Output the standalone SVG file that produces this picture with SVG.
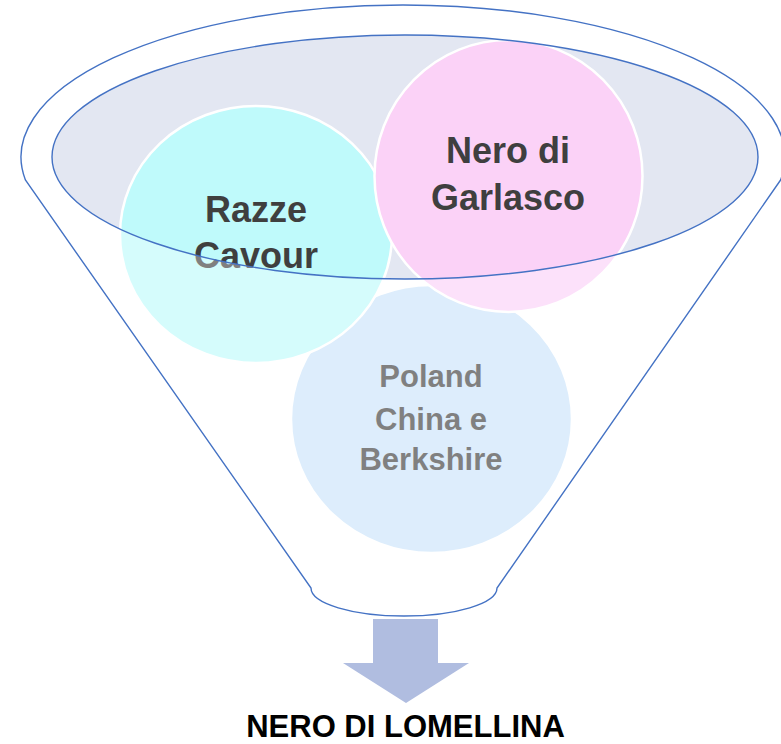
<svg xmlns="http://www.w3.org/2000/svg" width="781" height="744" viewBox="0 0 781 744">
<style>
.circ{stroke:#FFFFFF;stroke-width:2.5}
.lbl{font-family:"Liberation Sans",Arial,sans-serif;font-weight:bold;fill:#3F3F3F;text-anchor:middle}
.big{font-size:36px}
.small{font-size:31px}
.outline{fill:none;stroke:#4472C4;stroke-width:1.4}
</style>
<rect x="0" y="0" width="781" height="744" fill="#FFFFFF"/>
<ellipse id="funnel-mouth" cx="405" cy="157" rx="353" ry="122" fill="#E3E7F2"/>
<g id="node-poland">
<ellipse class="circ" cx="431.5" cy="419" rx="140.5" ry="134" fill="#CBE4FA"/>
<text class="lbl small" x="431" y="387">Poland</text>
<text class="lbl small" x="431" y="430">China e</text>
<text class="lbl small" x="431" y="470">Berkshire</text>
</g>
<g id="node-razze">
<ellipse class="circ" cx="256" cy="234.5" rx="136" ry="128.5" fill="#BFFAFB"/>
<text class="lbl big" x="256" y="222">Razze</text>
<text class="lbl big" x="256" y="268">Cavour</text>
</g>
<g id="node-nero">
<ellipse class="circ" cx="508.5" cy="176" rx="134" ry="136" fill="#FBD2F7"/>
<text class="lbl big" x="508" y="163">Nero di</text>
<text class="lbl big" x="508" y="210">Garlasco</text>
</g>
<g id="funnel">
<path d="M25.4,180 A382,152 0 1 1 780.6,180 L497,588 A93,28 0 0 1 311,588 Z M52,157 A353,122 0 1 0 758,157 A353,122 0 1 0 52,157 Z" fill="#FFFFFF" fill-opacity="0.34" fill-rule="evenodd"/>
<path class="outline" d="M25.4,180 A382,152 0 1 1 780.6,180 L497,588 A93,28 0 0 1 311,588 Z"/>
<ellipse class="outline" cx="405" cy="157" rx="353" ry="122"/>
</g>
<g id="connectors">
<polygon points="373,619 438,619 438,663 469,663 406,703 343,663 373,663" fill="#B0BDE0"/>
</g>
<g id="node-result">
<text x="405.5" y="737" font-family="'Liberation Sans',Arial,sans-serif" font-weight="bold" font-size="31" fill="#000000" text-anchor="middle">NERO DI LOMELLINA</text>
</g>
</svg>
